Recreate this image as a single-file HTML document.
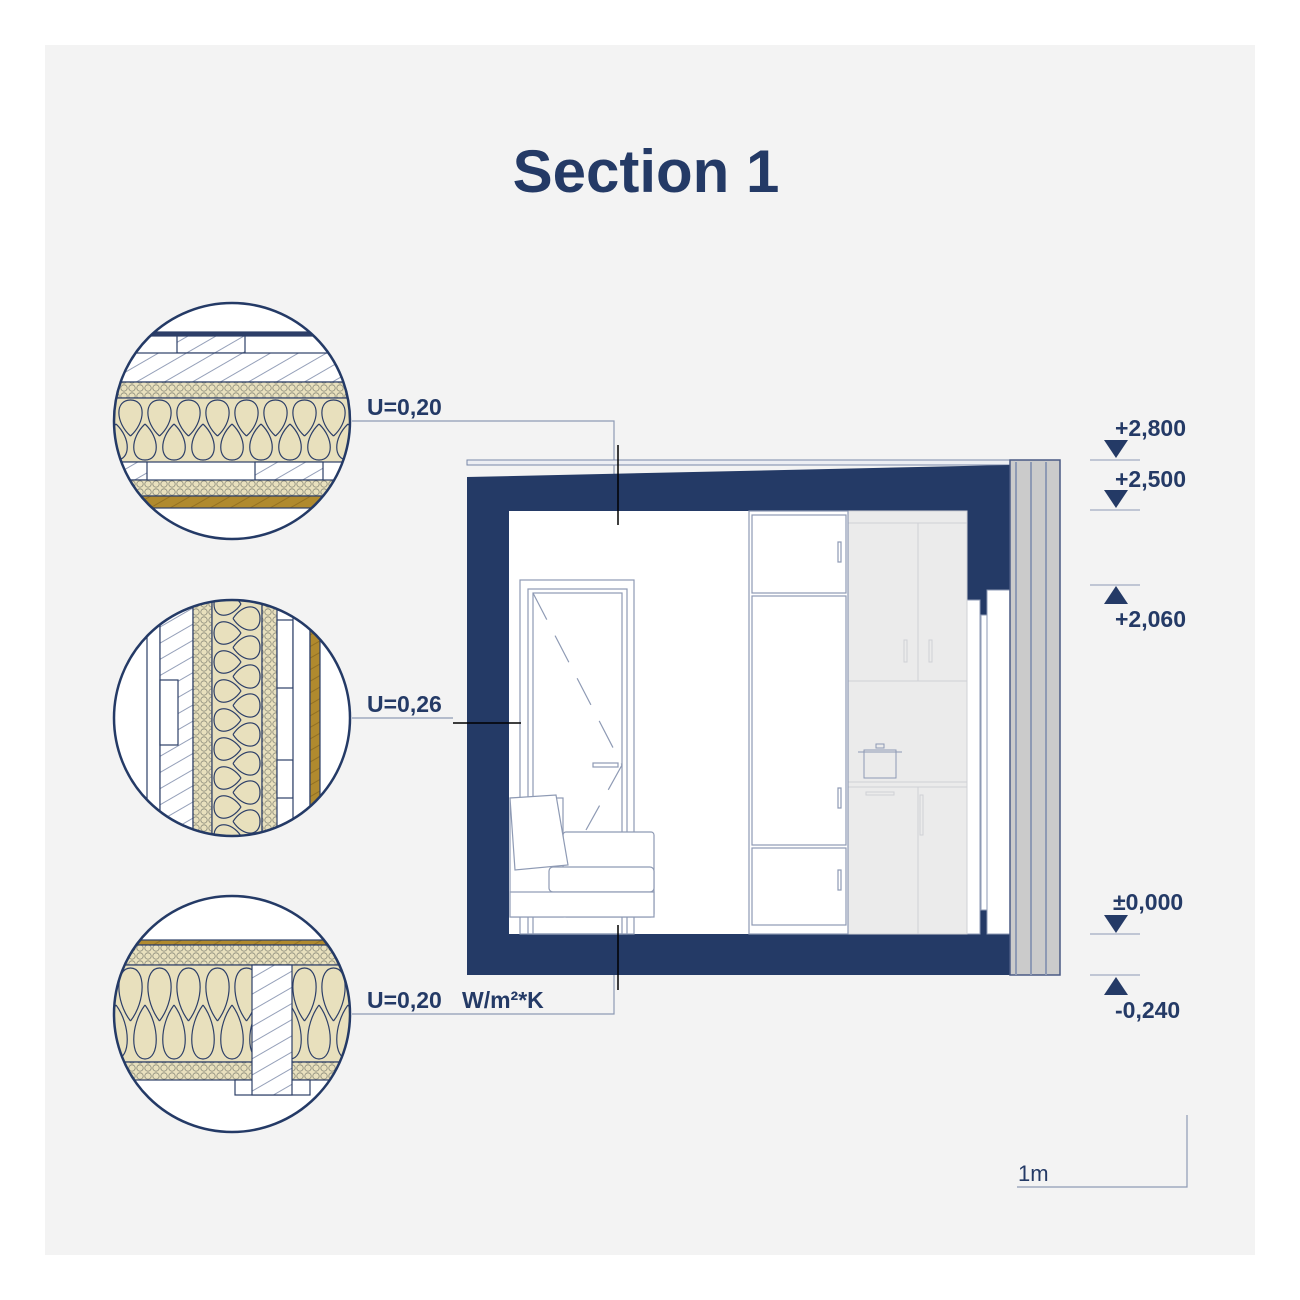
<!DOCTYPE html>
<html><head><meta charset="utf-8"><style>
html,body{margin:0;padding:0;background:#fff;}
svg{display:block;}
text{font-family:"Liberation Sans",Arial,sans-serif;fill:#243a66;font-weight:bold;}
</style></head><body>
<svg width="1300" height="1300" viewBox="0 0 1300 1300" xmlns="http://www.w3.org/2000/svg">
<defs>
<pattern id="big1" x="116" y="398" width="29" height="64" patternUnits="userSpaceOnUse">
<rect width="29" height="64" fill="#e8e0bd"/>
<path d="M14.5,38 C-1,24 -1,2 14.5,2 C30,2 30,24 14.5,38 M0,26 C15,40 15,62 0,62 M29,26 C14,40 14,62 29,62" fill="none" stroke="#2d3f68" stroke-width="1.2"/>
</pattern>
<pattern id="big3" x="116" y="965" width="29" height="97" patternUnits="userSpaceOnUse">
<rect width="29" height="97" fill="#e8e0bd"/>
<path d="M14.5,56 C-1,36 -1,3 14.5,3 C30,3 30,36 14.5,56 M0,40 C15,60 15,94 0,94 M29,40 C14,60 14,94 29,94" fill="none" stroke="#2d3f68" stroke-width="1.2"/>
</pattern>
<pattern id="bigv" width="29" height="50" patternUnits="userSpaceOnUse" patternTransform="translate(262,604) rotate(90)">
<rect width="29" height="50" fill="#e8e0bd"/>
<path d="M14.5,29 C-1,19 -1,2 14.5,2 C30,2 30,19 14.5,29 M0,21 C15,31 15,48 0,48 M29,21 C14,31 14,48 29,48" fill="none" stroke="#2d3f68" stroke-width="1.2"/>
</pattern>
<pattern id="small" width="8" height="8" patternUnits="userSpaceOnUse">
<rect width="8" height="8" fill="#e8e0bd"/>
<circle cx="4" cy="4" r="3.2" fill="none" stroke="#8a8a7a" stroke-width="0.8"/>
</pattern>
<pattern id="wood" width="14" height="14" patternUnits="userSpaceOnUse" patternTransform="rotate(-30)">
<rect width="14" height="14" fill="#fff"/>
<line x1="0" y1="7" x2="14" y2="7" stroke="#7a88a8" stroke-width="0.8"/>
</pattern>
<pattern id="gold" width="10" height="10" patternUnits="userSpaceOnUse" patternTransform="rotate(-30)">
<rect width="10" height="10" fill="#b08a2e"/>
<line x1="0" y1="5" x2="10" y2="5" stroke="#8a6a1e" stroke-width="0.8"/>
</pattern>
<clipPath id="c1"><circle cx="232" cy="421" r="118"/></clipPath>
<clipPath id="c2"><circle cx="232" cy="718" r="118"/></clipPath>
<clipPath id="c3"><circle cx="232" cy="1014" r="118"/></clipPath>
</defs>
<rect x="0" y="0" width="1300" height="1300" fill="#fff"/>
<rect x="45" y="45" width="1210" height="1210" fill="#f3f3f3"/>
<text x="646" y="192" font-size="60" text-anchor="middle">Section 1</text>

<!-- circle 1 -->
<circle cx="232" cy="421" r="118" fill="#fff"/>
<g clip-path="url(#c1)" stroke="#2d3f68" stroke-width="1.2">
<rect x="100" y="332" width="270" height="4" fill="#2d3f68"/>
<rect x="177" y="336" width="68" height="17" fill="url(#wood)"/>
<rect x="100" y="353" width="270" height="29" fill="url(#wood)"/>
<rect x="100" y="382" width="270" height="16" fill="url(#small)"/>
<rect x="100" y="398" width="270" height="64" fill="url(#big1)"/>
<rect x="100" y="462" width="47" height="18" fill="url(#wood)"/>
<rect x="255" y="462" width="68" height="18" fill="url(#wood)"/>
<rect x="100" y="480" width="270" height="16" fill="url(#small)"/>
<rect x="100" y="496" width="270" height="12" fill="url(#gold)"/>
</g>
<circle cx="232" cy="421" r="118" fill="none" stroke="#243a66" stroke-width="2.5"/>

<!-- circle 2 -->
<circle cx="232" cy="718" r="118" fill="#fff"/>
<g clip-path="url(#c2)" stroke="#2d3f68" stroke-width="1.2">
<rect x="147" y="590" width="13" height="260" fill="#fff"/>
<rect x="160" y="590" width="33" height="260" fill="url(#wood)"/>
<rect x="160" y="680" width="18" height="65" fill="#fff"/>
<rect x="193" y="590" width="19" height="260" fill="url(#small)"/>
<rect x="212" y="590" width="50" height="260" fill="url(#bigv)"/>
<rect x="262" y="590" width="15" height="260" fill="url(#small)"/>
<rect x="277" y="620" width="16" height="68" fill="#fff"/>
<rect x="277" y="760" width="16" height="38" fill="#fff"/>
<rect x="293" y="590" width="17" height="260" fill="#fff"/>
<rect x="310" y="590" width="10" height="260" fill="url(#gold)"/>
</g>
<circle cx="232" cy="718" r="118" fill="none" stroke="#243a66" stroke-width="2.5"/>

<!-- circle 3 -->
<circle cx="232" cy="1014" r="118" fill="#fff"/>
<g clip-path="url(#c3)" stroke="#2d3f68" stroke-width="1.2">
<rect x="100" y="940" width="270" height="5" fill="url(#gold)"/>
<rect x="100" y="945" width="270" height="20" fill="url(#small)"/>
<rect x="100" y="965" width="270" height="97" fill="url(#big3)"/>
<rect x="100" y="1062" width="270" height="18" fill="url(#small)"/>
<rect x="235" y="1080" width="75" height="15" fill="#fff"/>
<rect x="252" y="965" width="40" height="130" fill="url(#wood)"/>
</g>
<circle cx="232" cy="1014" r="118" fill="none" stroke="#243a66" stroke-width="2.5"/>

<!-- leaders -->
<g stroke="#8e9ab4" stroke-width="1.2" fill="none">
<polyline points="352,421 614,421 614,525"/>
<line x1="352" y1="718" x2="453" y2="718"/>
<polyline points="352,1014 614,1014 614,925"/>
</g>
<g font-size="23">
<text x="367" y="415">U=0,20</text>
<text x="367" y="712">U=0,26</text>
<text x="367" y="1008">U=0,20</text>
<text x="462" y="1008">W/m²*K</text>
</g>

<!-- section -->
<rect x="467" y="460" width="593" height="5" fill="#eceef3" stroke="#7a88a8" stroke-width="1"/>
<polygon points="467,477 1010,465 1010,975 467,975" fill="#243a66"/>
<rect x="509" y="511" width="458" height="423" fill="#fff"/>
<rect x="967" y="600" width="13" height="334" fill="#fff" stroke="#8e9ab4" stroke-width="1"/>
<rect x="981" y="615" width="6" height="295" fill="#fff" stroke="#8e9ab4" stroke-width="1"/>
<rect x="987" y="590" width="23" height="344" fill="#fff" stroke="#8e9ab4" stroke-width="1"/>
<rect x="1010" y="460" width="50" height="515" fill="#cbcbcb" stroke="#4a5a84" stroke-width="1.5"/>
<g stroke="#8e9ab4" stroke-width="2">
<line x1="1016" y1="462" x2="1016" y2="975"/><line x1="1031" y1="462" x2="1031" y2="975"/>
<line x1="1046" y1="462" x2="1046" y2="975"/>
</g>

<!-- kitchen -->
<g fill="#ebebeb" stroke="#cfd0d6" stroke-width="1">
<rect x="848" y="511" width="119" height="423"/>
<line x1="848" y1="523" x2="967" y2="523"/>
<line x1="918" y1="523" x2="918" y2="681"/>
<line x1="848" y1="681" x2="967" y2="681"/>
<line x1="848" y1="782" x2="967" y2="782"/>
<line x1="848" y1="787" x2="967" y2="787"/>
<line x1="918" y1="787" x2="918" y2="934"/>
<rect x="904" y="640" width="3" height="22"/><rect x="929" y="640" width="3" height="22"/>
<rect x="920" y="795" width="3" height="40"/>
<rect x="866" y="792" width="28" height="3"/>
</g>
<g fill="none" stroke="#8e9ab4" stroke-width="1">
<rect x="864" y="750" width="32" height="28"/>
<line x1="858" y1="752" x2="902" y2="752"/>
<rect x="876" y="744" width="8" height="4"/>
</g>

<!-- wardrobe -->
<g fill="#fff" stroke="#8e9ab4" stroke-width="1.2">
<rect x="749" y="511" width="99" height="423"/>
<rect x="752" y="515" width="94" height="78"/>
<rect x="752" y="596" width="94" height="249"/>
<rect x="752" y="848" width="94" height="77"/>
<rect x="838" y="542" width="3" height="20"/>
<rect x="838" y="788" width="3" height="20"/>
<rect x="838" y="870" width="3" height="20"/>
</g>

<!-- door -->
<g fill="none" stroke="#8e9ab4" stroke-width="1.2">
<rect x="520" y="580" width="114" height="354"/>
<rect x="528" y="589" width="99" height="345"/>
<rect x="533" y="593" width="89" height="341"/>
<polyline points="533,593 622,765 586,830" stroke-dasharray="30,18"/>
<rect x="593" y="763" width="25" height="4"/>
</g>

<!-- sofa -->
<g fill="#fff" stroke="#8e9ab4" stroke-width="1.2">
<rect x="563" y="832" width="91" height="85" rx="3"/>
<rect x="510" y="798" width="53" height="119"/>
<polygon points="510,798 556,795 568,865 515,870"/>
<rect x="549" y="867" width="105" height="25" rx="4"/>
<rect x="510" y="892" width="144" height="25"/>
</g>

<!-- cut markers -->
<g stroke="#000" stroke-width="1.5">
<line x1="618" y1="445" x2="618" y2="525"/>
<line x1="453" y1="723" x2="521" y2="723"/>
<line x1="618" y1="925" x2="618" y2="990"/>
</g>

<!-- levels -->
<g fill="#243a66">
<polygon points="1104,440 1128,440 1116,458"/>
<polygon points="1104,490 1128,490 1116,508"/>
<polygon points="1104,604 1128,604 1116,586"/>
<polygon points="1104,915 1128,915 1116,933"/>
<polygon points="1104,995 1128,995 1116,977"/>
</g>
<g stroke="#8e9ab4" stroke-width="1">
<line x1="1090" y1="460" x2="1140" y2="460"/>
<line x1="1090" y1="510" x2="1140" y2="510"/>
<line x1="1090" y1="585" x2="1140" y2="585"/>
<line x1="1090" y1="934" x2="1140" y2="934"/>
<line x1="1090" y1="975" x2="1140" y2="975"/>
</g>
<g font-size="23">
<text x="1115" y="436">+2,800</text>
<text x="1115" y="487">+2,500</text>
<text x="1115" y="627">+2,060</text>
<text x="1113" y="910">±0,000</text>
<text x="1115" y="1018">-0,240</text>
</g>

<!-- scale -->
<polyline points="1017,1187 1187,1187 1187,1115" fill="none" stroke="#8e9ab4" stroke-width="1.2"/>
<text x="1018" y="1181" font-size="22" style="font-weight:normal">1m</text>
</svg>
</body></html>
